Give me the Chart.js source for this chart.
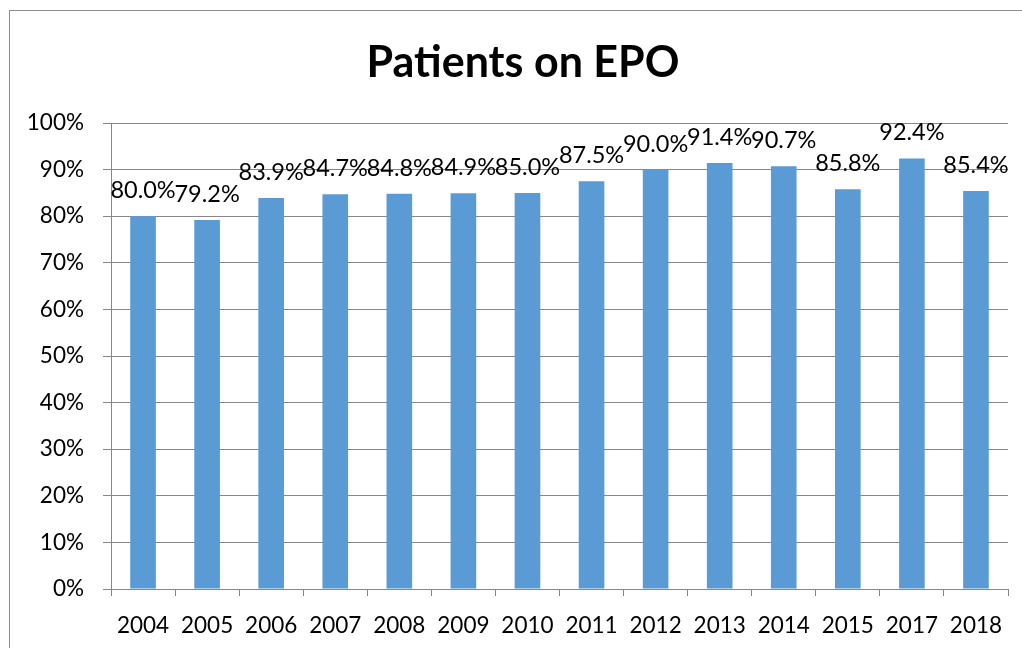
<!DOCTYPE html>
<html>
<head>
<meta charset="utf-8">
<script src="https://cdn.jsdelivr.net/npm/chart.js@4/dist/chart.umd.min.js"></script>
<style>
  html, body { margin: 0; padding: 0; background: #fff; overflow: hidden; }
  #frame { position: absolute; left: 9px; top: 10px; width: 1040px; height: 680px; border: 1px solid #8c8c8c; }
  #wrap { position: absolute; left: 0; top: 0; width: 1022px; height: 648px; }
</style>
</head>
<body>
<div id="frame"></div>
<div id="wrap"><canvas id="epoChart" width="1022" height="648"></canvas></div>
<script>
// Daten
const years = ['2004', '2005', '2006', '2007', '2008', '2009', '2010', '2011', '2012', '2013', '2014', '2015', '2017', '2018'];
const epoPercent = [80.0, 79.2, 83.9, 84.7, 84.8, 84.9, 85.0, 87.5, 90.0, 91.4, 90.7, 85.8, 92.4, 85.4];
const yTicks = [0, 10, 20, 30, 40, 50, 60, 70, 80, 90, 100];

const gridGray = '#878787';

// Werte über den Balken schreiben
const valueLabels = {
    id: 'valueLabels',
    afterDatasetsDraw(chart) {
        const ctx = chart.ctx;
        const meta = chart.getDatasetMeta(0);
        ctx.save();
        ctx.font = '23.5px Lato';
        ctx.fillStyle = '#000';
        ctx.textAlign = 'center';
        ctx.textBaseline = 'alphabetic';
        meta.data.forEach((bar, i) => {
            ctx.fillText(epoPercent[i].toFixed(1) + '%', bar.x, bar.y - 18);
        });
        ctx.restore();
    }
};

// Titel wie im Original etwas rechts der Mitte
const shiftTitle = {
    id: 'shiftTitle',
    afterLayout(chart) {
        if (chart.titleBlock) {
            chart.titleBlock.left += 19;
            chart.titleBlock.right += 19;
        }
    }
};

new Chart(document.getElementById('epoChart'), {
    type: 'bar',
    data: {
        labels: years,
        datasets: [{
            label: 'Patients on EPO',
            data: epoPercent,
            backgroundColor: '#5b9bd5',
            borderWidth: 0,
            categoryPercentage: 1.0,
            barPercentage: 0.4
        }]
    },
    options: {
        responsive: false,
        animation: false,
        layout: { padding: { left: 0, right: 14, top: 0, bottom: 0 } },
        plugins: {
            legend: { display: false },
            tooltip: { enabled: false },
            title: {
                display: true,
                text: 'Patients on EPO',
                color: '#000',
                font: { family: 'Lato', size: 43, weight: 'bold', lineHeight: 1.2 },
                padding: { top: 37, bottom: 34.4 }
            }
        },
        scales: {
            x: {
                grid: { drawOnChartArea: false, drawTicks: true, tickLength: 7, color: gridGray },
                border: { color: gridGray },
                ticks: { color: '#000', font: { family: 'Lato', size: 22.5 }, padding: 16, maxRotation: 0 },
                afterFit(scale) { scale.height = 59; }
            },
            y: {
                min: 0,
                max: 100,
                afterBuildTicks(scale) { scale.ticks = yTicks.map(v => ({ value: v })); },
                grid: { color: gridGray, tickLength: 8 },
                border: { color: gridGray },
                ticks: {
                    color: '#000',
                    font: { family: 'Lato', size: 22.5 },
                    padding: 19,
                    callback: v => v + '%'
                },
                afterFit(scale) { scale.width = 111; }
            }
        }
    },
    plugins: [valueLabels, shiftTitle]
});
</script>
</body>
</html>
